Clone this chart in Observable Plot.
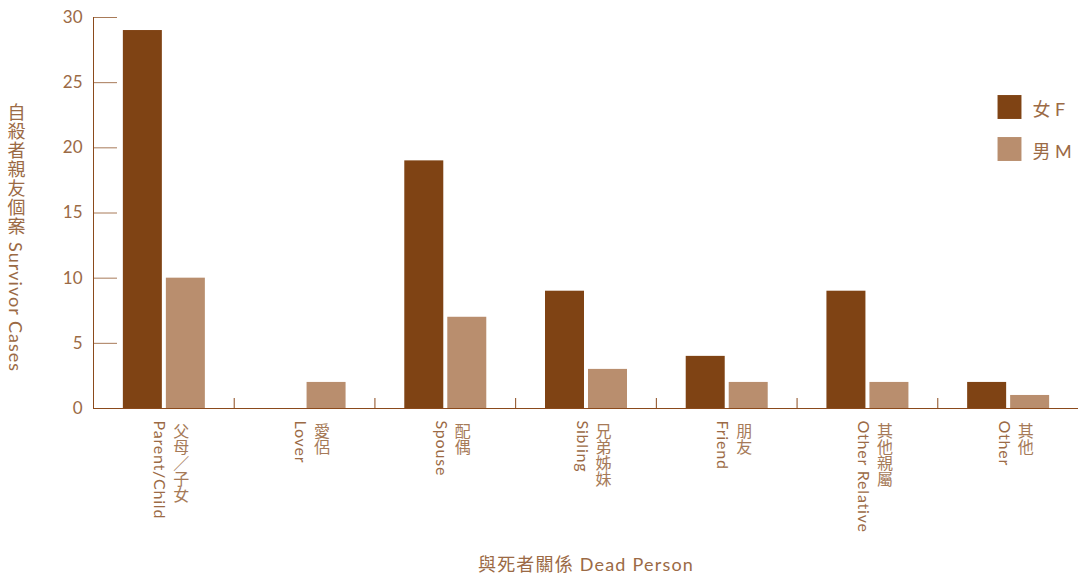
<!DOCTYPE html>
<html><head><meta charset="utf-8">
<script src="https://cdn.jsdelivr.net/npm/d3@7"></script>
<script src="https://cdn.jsdelivr.net/npm/@observablehq/plot@0.6"></script>
<style>body{margin:0;background:#fff}</style>
</head><body><div id="chart"></div>
<script>
const categoriesZh = ["父母／子女","愛侶","配偶","兄弟姊妹","朋友","其他親屬","其他"];
const categoriesEn = ["Parent/Child","Lover","Spouse","Sibling","Friend","Other Relative","Other"];
const femaleValues = [29,0,19,9,4,9,2];
const maleValues = [10,2,7,3,2,2,1];
const yTicks = [0,5,10,15,20,25,30];
const seriesKeys = ["F","M"];
const seriesLabels = ["女 F","男 M"];
const seriesColors = ["#7f4314","#b98e6e"];
const yTitle = "自殺者親友個案 Survivor Cases";
const xTitle = "與死者關係 Dead Person";

const W = 1078, H = 575, ML = 93, MR = 0, MT = 17, MB = 167;
const frameW = W - ML - MR, frameH = H - MT - MB;
const step = frameW / categoriesEn.length;
const pad = 1 - 39 / step;
const textColor = "#9b6a45";
const axisColor = "#8b4a1c";

const rows = categoriesEn.flatMap((c, i) => [
  {cat: c, sex: "F", v: femaleValues[i]},
  {cat: c, sex: "M", v: maleValues[i]}
]);
const labelRows = categoriesEn.map((c, i) => ({cat: c, zh: categoriesZh[i], en: c}));
const legendRows = seriesKeys.map((k, i) => ({key: k, label: seriesLabels[i], i}));

const svg = Plot.plot({
  width: W, height: H,
  marginLeft: ML, marginRight: MR, marginTop: MT, marginBottom: MB,
  style: {fontFamily: "Lato, 'Noto Sans CJK TC', sans-serif", fontSize: "16px", color: textColor, background: "#fff"},
  x: {domain: categoriesEn, paddingInner: pad, paddingOuter: pad / 2, round: false, axis: null},
  y: {domain: [0, 30], axis: null},
  color: {domain: seriesKeys, range: seriesColors},
  marks: [
    Plot.barY(rows.filter(d => d.sex === "F"), {x: "cat", y: "v", fill: "sex", dx: -21}),
    Plot.barY(rows.filter(d => d.sex === "M"), {x: "cat", y: "v", fill: "sex", dx: 22}),
    Plot.ruleY(yTicks, {y: d => d, insetRight: frameW - 24, stroke: "#a87a58"}),
    Plot.text(yTicks, {y: d => d, frameAnchor: "left", dx: -11, textAnchor: "end", fill: textColor, fontSize: 17}),
    Plot.ruleX(categoriesEn.slice(0, -1), {x: d => d, dx: step / 2, insetTop: frameH - 10, stroke: axisColor}),
    Plot.frame({anchor: "left", stroke: axisColor}),
    Plot.frame({anchor: "bottom", stroke: axisColor}),
    Plot.text(labelRows, {x: "cat", text: "zh", frameAnchor: "bottom", dy: 14, dx: 17, textAnchor: "start", fill: "#a67a58", fontSize: 16, className: "vlab"}),
    Plot.text(labelRows, {x: "cat", text: "en", frameAnchor: "bottom", dy: 12, dx: -3, textAnchor: "start", fill: textColor, fontSize: 16, className: "vlab ls"}),
    Plot.text([yTitle], {frameAnchor: "top-left", dx: -78, dy: 86, textAnchor: "start", fill: textColor, fontSize: 18, className: "vlab yt"}),
    Plot.text([xTitle], {frameAnchor: "bottom", dy: 162, fill: textColor, fontSize: 18, className: "xt"}),
    ...legendRows.flatMap(r => [
      Plot.dot([r], {frameAnchor: "top-right", dx: -69, dy: 89.5 + r.i * 42, symbol: "square", r: 13.5, fill: "key"}),
      Plot.text([r], {frameAnchor: "top-right", text: "label", dx: -46, dy: 86 + r.i * 42, textAnchor: "start", fill: textColor, fontSize: 18})
    ])
  ]
});

svg.querySelectorAll(".vlab text").forEach(t => {
  t.removeAttribute("y");
  t.setAttribute("writing-mode", "vertical-rl");
  t.style.textOrientation = "mixed";
});
svg.querySelectorAll(".ls text").forEach(t => t.style.letterSpacing = "0.8px");
svg.querySelectorAll(".yt text").forEach(t => t.style.letterSpacing = "1px");
svg.querySelectorAll(".xt text").forEach(t => t.style.letterSpacing = "1.2px");
document.getElementById("chart").appendChild(svg);
</script>
</body></html>
